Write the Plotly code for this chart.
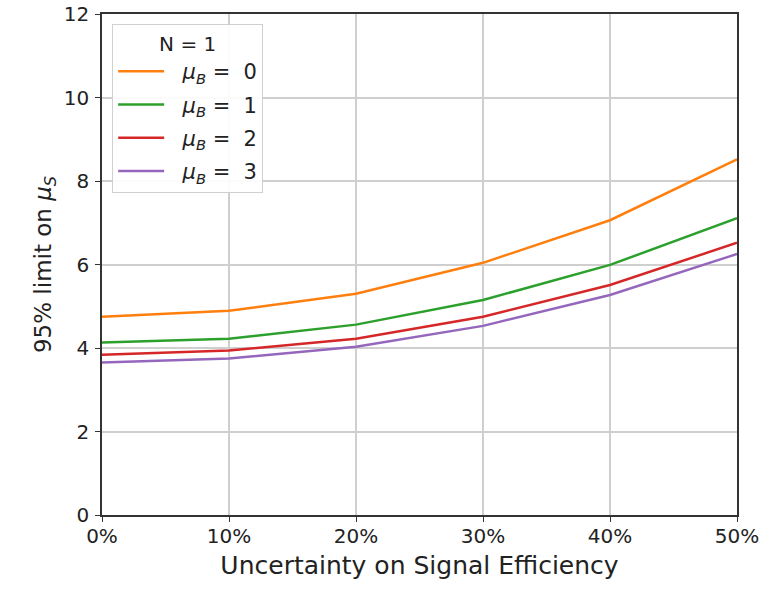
import plotly.graph_objects as go

x_unc = [0.0, 0.1, 0.2, 0.3, 0.4, 0.5]
mu_b_labels = ["0", "1", "2", "3"]
limits_b0 = [4.75, 4.89, 5.30, 6.04, 7.06, 8.52]
limits_b1 = [4.13, 4.22, 4.56, 5.15, 5.99, 7.11]
limits_b2 = [3.84, 3.94, 4.22, 4.75, 5.51, 6.52]
limits_b3 = [3.65, 3.75, 4.03, 4.53, 5.27, 6.25]
series = [limits_b0, limits_b1, limits_b2, limits_b3]
colors = ["#ff7f0e", "#2ca02c", "#d62728", "#9467bd"]
x_ticks = [0.0, 0.1, 0.2, 0.3, 0.4, 0.5]
x_tick_text = ["0%", "10%", "20%", "30%", "40%", "50%"]
y_ticks = [0, 2, 4, 6, 8, 10, 12]

fig = go.Figure()
for i, (lab, ys, c) in enumerate(zip(mu_b_labels, series, colors)):
    fig.add_trace(go.Scatter(
        x=x_unc, y=ys, mode="lines",
        line=dict(color=c, width=2.5),
        name="\u00a0\u00a0<i>μ</i><sub><i>B</i></sub> =  " + lab,
        legendgroup="g%d" % i,
    ))

font_family = "DejaVu Sans"
fig.update_layout(
    width=761, height=589,
    margin=dict(l=102, r=24, t=14, b=74, autoexpand=False),
    paper_bgcolor="white", plot_bgcolor="white",
    font=dict(family=font_family, size=20, color="#222222"),
    showlegend=True,
    legend=dict(
        x=0.016, y=0.98, xanchor="left", yanchor="top",
        bgcolor="rgba(255,255,255,0.9)", bordercolor="#d0d0d0", borderwidth=1,
        font=dict(size=21, family=font_family),
        title=dict(text="N = 1", side="top center", font=dict(size=20, family=font_family)),
        tracegroupgap=3, itemwidth=46,
    ),
    xaxis=dict(
        range=[0, 0.5], tickvals=x_ticks, ticktext=x_tick_text,
        showgrid=True, gridcolor="#cfcfcf", gridwidth=1.5,
        showline=True, linecolor="#333333", linewidth=1.5, mirror=True,
        ticks="outside", ticklen=5, tickcolor="#333333",
        zeroline=False, automargin=False,
        title=dict(text="Uncertainty on Signal Efficiency", font=dict(size=25), standoff=10),
        tickfont=dict(size=20),
        ticklabelstandoff=-3,
        ticklabeloverflow="allow",
    ),
    yaxis=dict(
        range=[0, 12], tickvals=y_ticks,
        showgrid=True, gridcolor="#cfcfcf", gridwidth=1.5,
        showline=True, linecolor="#333333", linewidth=1.5, mirror=True,
        ticks="outside", ticklen=5, tickcolor="#333333",
        zeroline=False, automargin=False,
        title=dict(text="95% limit on <i>μ</i><sub><i>S</i></sub>", font=dict(size=23), standoff=6),
        tickfont=dict(size=20),
        ticklabelstandoff=2,
        ticklabeloverflow="allow",
    ),
)

fig.write_html("out.html", config={"displayModeBar": False},
               post_script="document.body.style.margin='0';")
